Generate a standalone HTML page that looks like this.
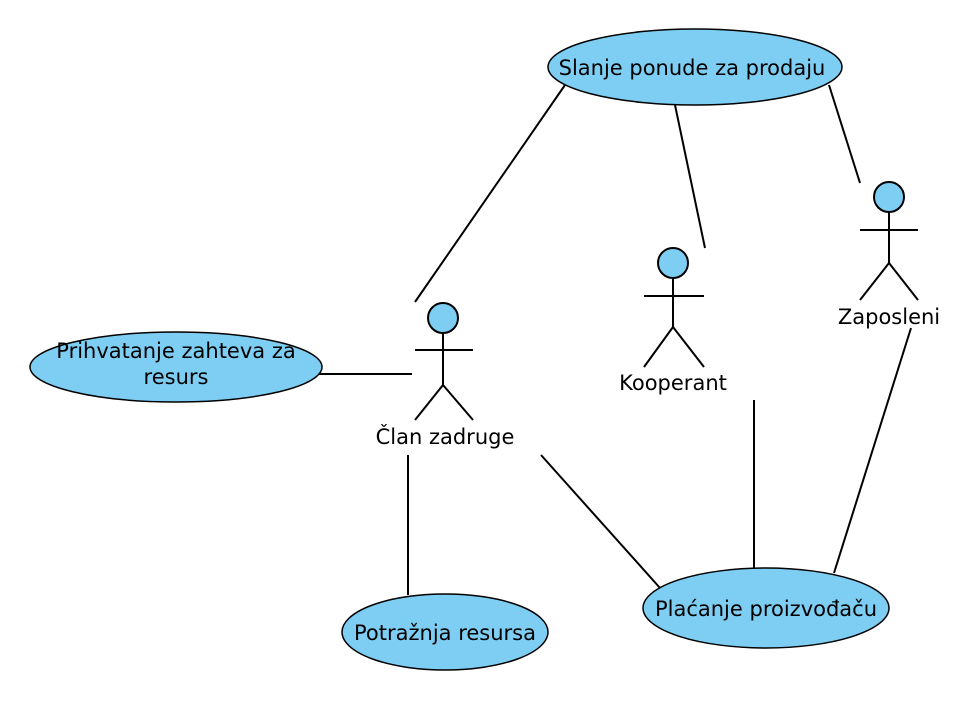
<!DOCTYPE html>
<html><head><meta charset="utf-8"><style>
html,body{margin:0;padding:0;background:#fff;}
svg{display:block;}
text{font-family:"DejaVu Sans","Liberation Sans",sans-serif;font-size:21px;fill:#000;}
</style></head><body>
<svg width="970" height="717" viewBox="0 0 970 717" xmlns="http://www.w3.org/2000/svg">
<g stroke="#000" stroke-width="2" fill="none">
<line x1="565" y1="85" x2="415" y2="302"/>
<line x1="675" y1="105" x2="705" y2="248"/>
<line x1="829" y1="85" x2="860" y2="183"/>
<line x1="318" y1="374" x2="412" y2="374"/>
<line x1="408" y1="455" x2="408" y2="595"/>
<line x1="541" y1="455" x2="660" y2="588"/>
<line x1="754" y1="400" x2="754" y2="568"/>
<line x1="911" y1="328" x2="834" y2="573"/>
</g>
<g stroke="#000" stroke-width="1.5" fill="#7ECEF4">
<ellipse cx="695" cy="67" rx="147" ry="38"/>
<ellipse cx="176" cy="367" rx="146" ry="35"/>
<ellipse cx="445" cy="632" rx="103" ry="38"/>
<ellipse cx="766" cy="608" rx="123" ry="40"/>
</g>
<g stroke="#000" stroke-width="2" fill="none">
<circle cx="443" cy="318" r="15" fill="#7ECEF4"/>
<line x1="443" y1="333" x2="443" y2="385"/><line x1="415" y1="350" x2="473" y2="350"/>
<line x1="443" y1="385" x2="415" y2="420"/><line x1="443" y1="385" x2="473" y2="420"/>
<circle cx="673" cy="263" r="15" fill="#7ECEF4"/>
<line x1="673" y1="278" x2="673" y2="327"/><line x1="644" y1="296" x2="704" y2="296"/>
<line x1="673" y1="327" x2="644" y2="367"/><line x1="673" y1="327" x2="704" y2="367"/>
<circle cx="889" cy="197" r="15" fill="#7ECEF4"/>
<line x1="889" y1="212" x2="889" y2="263"/><line x1="860" y1="230" x2="918" y2="230"/>
<line x1="889" y1="263" x2="860" y2="300"/><line x1="889" y1="263" x2="918" y2="300"/>
</g>
<g text-anchor="middle">
<text x="692" y="75">Slanje ponude za prodaju</text>
<text x="176" y="358">Prihvatanje zahteva za</text>
<text x="176" y="384">resurs</text>
<text x="445" y="640">Potražnja resursa</text>
<text x="766" y="616">Plaćanje proizvođaču</text>
<text x="445" y="444">Član zadruge</text>
<text x="673" y="390">Kooperant</text>
<text x="889" y="324">Zaposleni</text>
</g>
</svg>
</body></html>
